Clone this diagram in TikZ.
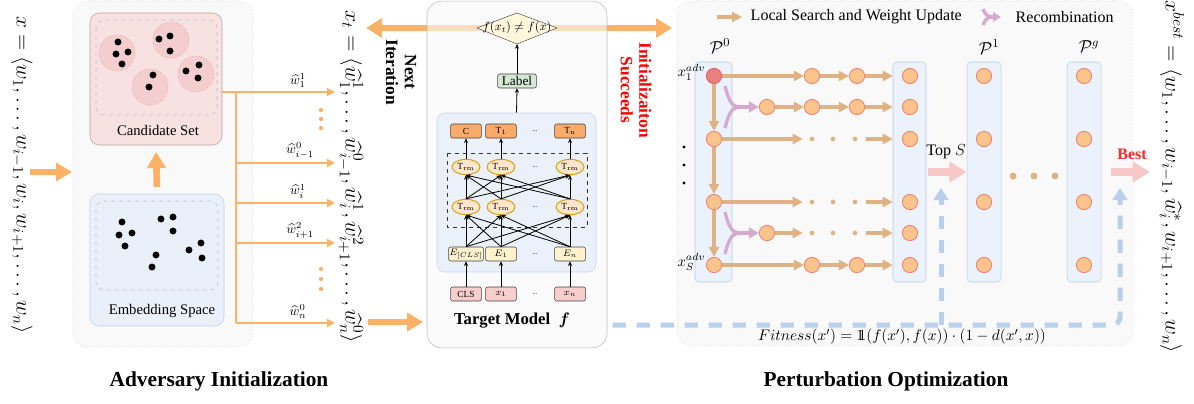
\RequirePackage{fix-cm}
\documentclass[tikz,border=0pt]{standalone}
\usepackage{amsmath,amssymb,bm}
\usepackage[no-math]{fontspec}
\setmainfont{Liberation Serif}
\usetikzlibrary{arrows.meta,shapes.geometric}

\newcommand{\indicator}{\mathrm{1\mkern-6.5mu1}}

\definecolor{initorange}{RGB}{252,178,102}
\definecolor{searchtan}{RGB}{222,178,130}
\definecolor{recombpink}{RGB}{214,170,204}
\definecolor{bestpink}{RGB}{248,200,200}
\definecolor{feedblue}{RGB}{185,207,235}
\definecolor{colfill}{RGB}{235,242,252}
\definecolor{coldraw}{RGB}{182,202,230}
\definecolor{popfill}{RGB}{251,196,140}
\definecolor{popdraw}{RGB}{238,130,110}
\definecolor{advfill}{RGB}{232,128,128}
\definecolor{advdraw}{RGB}{224,100,100}
\definecolor{candfill}{RGB}{248,225,225}
\definecolor{canddraw}{RGB}{190,160,160}
\definecolor{clusfill}{RGB}{244,206,206}
\definecolor{clusdraw}{RGB}{232,150,150}
\definecolor{embfill}{RGB}{233,240,250}
\definecolor{embdraw}{RGB}{190,210,235}
\definecolor{modelfill}{RGB}{234,241,251}
\definecolor{modeldraw}{RGB}{196,212,234}
\definecolor{outfill}{RGB}{250,170,105}
\definecolor{trmfill}{RGB}{255,230,204}
\definecolor{trmdraw}{RGB}{215,155,0}
\definecolor{embbox}{RGB}{255,242,204}
\definecolor{inpbox}{RGB}{248,206,204}
\definecolor{labelfill}{RGB}{213,232,212}
\definecolor{condfill}{RGB}{255,246,220}
\definecolor{panelfill}{RGB}{249,249,249}

\tikzset{
  fat/.style={draw=initorange, line width=5pt, -{Triangle[length=12pt,width=13.5pt]}},
  branch/.style={draw=initorange, line width=1.5pt, -{Triangle[length=6pt,width=6pt]}},
  outnode/.style={draw=black!75, fill=outfill, rounded corners=1.5pt, minimum width=23pt, minimum height=10.5pt, inner sep=0.5pt, font=\scriptsize},
  embnode/.style={outnode, fill=embbox},
  inpnode/.style={outnode, fill=inpbox},
  trmnode/.style={ellipse, draw=trmdraw, fill=trmfill, line width=0.7pt, minimum width=21pt, minimum height=11.5pt, inner sep=0pt, font=\scriptsize},
  thinarrow/.style={line width=0.6pt, -{Stealth[length=3.5pt,width=3pt]}},
  colbox/.style={draw=coldraw, fill=colfill, rounded corners=3pt, minimum height=165pt},
  pop/.style={circle, draw=popdraw, fill=popfill, line width=0.6pt, minimum size=11.5pt, inner sep=0pt},
  advnode/.style={pop, draw=advdraw, fill=advfill},
  gapdot/.style={circle, fill=searchtan, minimum size=3.5pt, inner sep=0pt},
  search/.style={draw=searchtan, line width=2.5pt, -{Triangle[length=7.5pt,width=7.5pt]}},
  recomb/.style={draw=recombpink, line width=2.5pt},
  bestarrow/.style={draw=bestpink, line width=6pt, -{Triangle[length=13pt,width=15pt]}},
  feedback/.style={draw=feedblue, line width=3.75pt, dash pattern=on 10pt off 8pt, rounded corners=6pt, -{Triangle[length=9pt,width=11pt]}},
  sentence/.style={rotate=-90, font=\fontsize{16.3}{18}\selectfont},
  sublabel/.style={anchor=south, inner sep=1pt}
}

\begin{document}
\begin{tikzpicture}[x=0.75pt,y=0.75pt,yscale=-1,xscale=1]
\useasboundingbox (0,0) rectangle (1194,403);

% panels
\draw[gray!50, dotted, fill=panelfill, rounded corners=11pt] (73,1) rectangle (253,347);
\draw[gray!50, dotted, fill=panelfill, rounded corners=11pt] (677,1) rectangle (1133,346);

% Next Iteration / Initialization Succeeds
\coordinate (xtend) at (366,28);
\coordinate (popstart) at (672,28);
\draw[initorange, line width=5pt, {Triangle[length=12pt,width=14pt]}-{Triangle[length=12pt,width=14pt]}] (xtend) -- (popstart);

% Target model panel
\node[draw=gray!55, fill=panelfill, fill opacity=0.6, rounded corners=11pt, minimum width=135pt, minimum height=260pt] (target) at (517,174.5) {};

% input sentence
\node[sentence, font=\fontsize{16}{18}\selectfont] (xin) at (22,175) {$x = \langle w_1, \ldots, w_{i-1}, w_i, w_{i+1}, \ldots, w_n \rangle$};
\coordinate (xinA) at (30,172);
\coordinate (xinB) at (72,172);
\draw[fat] (xinA) -- (xinB);

% Candidate Set
\node[draw=canddraw, fill=candfill, rounded corners=7pt, minimum width=99pt, minimum height=99pt] (cand) at (156,79) {};
\draw[gray!50, dashed, rounded corners=6pt] (96,20) rectangle (217,115);
\foreach \i/\xx/\yy in {1/117/53, 2/171/40, 3/150/87, 4/196/74}{
  \node[circle, draw=clusdraw, densely dotted, fill=clusfill, minimum size=27pt] (clus\i) at (\xx,\yy) {};
}
\foreach \p in {(118,42),(116,54),(128,52),(122,64),(159,39),(170,36),(170,51),(153,75),(149,87),(186,71),(199,65),(198,78)}
  \fill \p circle (2.6pt);
\node[font=\fontsize{11}{13}\selectfont] (candlbl) at (158,130) {Candidate Set};

% Embedding Space
\node[draw=embdraw, fill=embfill, rounded corners=7pt, minimum width=100.5pt, minimum height=99pt] (emb) at (157,260) {};
\draw[gray!50, dashed, rounded corners=6pt] (96,201) rectangle (218,290);
\foreach \p in {(122,222),(119,235),(132,233),(125,246),(161,219),(173,217),(173,231),(156,255),(152,267),(189,250),(201,243),(202,258)}
  \fill \p circle (2.6pt);
\node[font=\fontsize{11}{13}\selectfont] (emblbl) at (162,311) {Embedding Space};
\draw[fat, shorten <=5pt, shorten >=5pt] (emb.north) -- (cand.south);

% substitutions
\coordinate (fork) at (236,92);
\draw[initorange, line width=1.5pt] (cand.east |- fork) -- (fork) -- (236,323);
\foreach \yy in {92,163,203,243,323}
  \draw[branch] (236,\yy) -- (335,\yy);
\node[sublabel] (sub1) at (298,89) {$\widehat{w}_1^1$};
\node[sublabel] (sub2) at (300,160) {$\widehat{w}_{i-1}^0$};
\node[sublabel] (sub3) at (298,200) {$\widehat{w}_i^1$};
\node[sublabel] (sub4) at (300,240) {$\widehat{w}_{i+1}^2$};
\node[sublabel] (sub5) at (298,320) {$\widehat{w}_n^0$};
\foreach \yy in {110,119,128,269,279,289}
  \fill[initorange] (321,\yy) circle (1.6pt);

% adversarial sentence
\node[sentence] (xt) at (351,177) {$x_t = \langle \widehat{w}_1^1, \ldots, \widehat{w}_{i-1}^0, \widehat{w}_i^1, \widehat{w}_{i+1}^2, \ldots, \widehat{w}_n^0 \rangle$};
\node[rotate=-90, align=center, font=\bfseries\fontsize{13}{14}\selectfont] (nextit) at (401,72) {Next\\Iteration};
\node[rotate=-90, align=center, text=red, font=\bfseries\fontsize{13}{14}\selectfont] (initok) at (636,90) {Initializaiton\\Succeeds};
\coordinate (xtA) at (368,322);
\coordinate (xtB) at (423,322);
\draw[fat] (xtA) -- (xtB);

% Target model
\node[draw=modeldraw, fill=modelfill, rounded corners=6pt, minimum width=119.25pt, minimum height=119.25pt] (model) at (516.5,192.5) {};
\draw[black!80, dashed, line width=0.5pt] (447,153) rectangle (587,227);
\draw[draw=gray!70!black, fill=condfill] (477,28) -- (517,13) -- (557,28) -- (517,44) -- cycle;
\node[font=\small] (cond) at (517,28) {$f(x_t) \neq f(x)$};
\coordinate (condS) at (517,44);
\node[draw=black!75, fill=labelfill, rounded corners=1.5pt, minimum width=29pt, minimum height=10.5pt, inner sep=1pt] (label) at (517,81) {Label};
\draw[thinarrow] (model.north) -- (label.south);
\draw[thinarrow] (label.north) -- (condS);
\foreach \i/\xx/\tin/\temb/\tout in {1/466/CLS/{$E_{[CLS]}$}/C, 2/501/{$x_1$}/{$E_1$}/{T$_1$}, 3/570/{$x_n$}/{$E_n$}/{T$_\mathrm{n}$}}{
  \node[inpnode] (in\i) at (\xx,294) {\tin};
  \node[embnode] (e\i) at (\xx,254) {\temb};
  \node[trmnode] (ta\i) at (\xx,207) {T$_\mathrm{rm}$};
  \node[trmnode] (tb\i) at (\xx,167) {T$_\mathrm{rm}$};
  \node[outnode] (o\i) at (\xx,131) {\tout};
}
\foreach \yy in {131,167,207,254,294}
  \node[font=\tiny] (gap\yy) at (535,\yy) {...};
\foreach \a in {1,2,3}{
  \draw[thinarrow] (in\a) -- (e\a);
  \foreach \b in {1,2,3}{
    \draw[thinarrow] (e\a.north) -- (ta\b.south);
    \draw[thinarrow] (ta\a.north) -- (tb\b.south);
  }
  \draw[thinarrow] (tb\a) -- (o\a);
}
\node[font=\bfseries\fontsize{12.5}{14}\selectfont] (tmlbl) at (512,321) {Target Model~~$\boldsymbol{f}$};

% legend
\coordinate (lgA) at (717,17);
\coordinate (lgB) at (742,17);
\draw[search] (lgA) -- (lgB);
\node[anchor=west, font=\fontsize{12}{14}\selectfont] (lgsearch) at (746,17) {Local Search and Weight Update};
\draw[recomb] (983,9) .. controls (985,14) and (987,16) .. (990,17) .. controls (987,18) and (985,20) .. (983,25);
\coordinate (lgC) at (990,17);
\coordinate (lgD) at (1001,17);
\draw[recomb, -{Triangle[length=6pt,width=7pt]}] (lgC) -- (lgD);
\node[anchor=west, font=\fontsize{12}{14}\selectfont] (lgrecomb) at (1011,17) {Recombination};

% populations
\node[colbox, minimum width=27.75pt] (col0) at (713.5,172) {};
\node[colbox, minimum width=24.75pt] (colB) at (909.5,172) {};
\node[colbox, minimum width=25.5pt] (col1) at (984,172) {};
\node[colbox, minimum width=25.5pt] (colg) at (1084,172) {};
\node[font=\fontsize{13}{15}\selectfont] (P0) at (720,46) {$\mathcal{P}^0$};
\node[font=\fontsize{13}{15}\selectfont] (P1) at (989,47) {$\mathcal{P}^1$};
\node[font=\fontsize{13}{15}\selectfont] (Pg) at (1089,47) {$\mathcal{P}^g$};

\node[advnode] (a1) at (714,76) {};
\node[pop] (a2) at (714,139) {};
\node[pop] (a3) at (714,202) {};
\node[pop] (a4) at (714,265) {};
\foreach \k/\yy in {1/76,2/107,3/139,4/202,5/233,6/265}
  \node[pop] (b\k) at (910,\yy) {};
\foreach \k/\yy in {1/76,2/139,3/202,4/265}{
  \node[pop] (p\k) at (984,\yy) {};
  \node[pop] (g\k) at (1084,\yy) {};
}
\node[anchor=east, font=\fontsize{11}{13}\selectfont] (x1lbl) at (710,72) {$x_1^{adv}$};
\node[anchor=east, font=\fontsize{11}{13}\selectfont] (xslbl) at (710,262) {$x_S^{adv}$};
\foreach \yy in {147,165,183}
  \fill (684,\yy) circle (1.3pt);

% local search rows
\node[pop] (r1a) at (812,76) {};
\node[pop] (r1b) at (857,76) {};
\node[pop] (r2a) at (767,107) {};
\node[pop] (r2b) at (812,107) {};
\node[pop] (r2c) at (857,107) {};
\node[pop] (r5a) at (767,233) {};
\node[pop] (r6a) at (812,265) {};
\node[pop] (r6b) at (857,265) {};
\foreach \r/\yy in {3/139,4/202,5/233}{
  \node[gapdot] (d\r a) at (812,\yy) {};
  \node[gapdot] (d\r b) at (833,\yy) {};
  \node[gapdot] (d\r c) at (855,\yy) {};
  \draw[search, shorten <=6pt] (d\r c) -- (colB.west |- d\r c);
}
\draw[search] (a1) -- (r1a);
\draw[search] (r1a) -- (r1b);
\draw[search] (r1b) -- (colB.west |- b1);
\draw[search] (r2a) -- (r2b);
\draw[search] (r2b) -- (r2c);
\draw[search] (r2c) -- (colB.west |- b2);
\draw[search, shorten >=5pt] (a2) -- (d3a);
\draw[search, shorten >=5pt] (a3) -- (d4a);
\draw[search, shorten >=5pt] (r5a) -- (d5a);
\draw[search] (a4) -- (r6a);
\draw[search] (r6a) -- (r6b);
\draw[search] (r6b) -- (colB.west |- b6);
\draw[search] (a1) -- (a2);
\draw[search] (a2) -- (a3);
\draw[search] (a3) -- (a4);

% recombination
\coordinate (rc1) at (738,107);
\coordinate (rc2) at (738,233);
\draw[recomb] (725,86) .. controls (728,98) and (731,106) .. (rc1) .. controls (731,108) and (728,116) .. (725,128);
\draw[recomb, -{Triangle[length=7.5pt,width=8pt]}] (rc1) -- (r2a);
\draw[recomb] (725,212) .. controls (728,224) and (731,232) .. (rc2) .. controls (731,234) and (728,242) .. (725,254);
\draw[recomb, -{Triangle[length=7.5pt,width=8pt]}] (rc2) -- (r5a);

% selection
\draw[bestarrow] ([xshift=1.5pt]colB.east) -- (col1.west);
\node[font=\fontsize{12}{14}\selectfont] (topS) at (946,152) {Top $S$};
\foreach \xx in {1013,1034,1055}
  \fill[searchtan] (\xx,176) circle (2.6pt);
\coordinate (bestend) at (1150,172);
\draw[bestarrow] ([xshift=7pt]colg.east) -- (bestend);
\node[text=red!85!white, font=\bfseries\fontsize{12}{14}\selectfont] (bestlbl) at (1132,154) {Best};

% fitness feedback
\coordinate (fbA) at (target.east |- 0,325);
\draw[feedback, shorten <=4pt] (fbA) -- (1120,325) -- (1120,188);
\draw[feedback] (941,325) -- (941,188);
\node[font=\fontsize{11.5}{13}\selectfont] (fitness) at (902,337) {$Fitness(x') = \indicator(f(x'), f(x)) \cdot (1 - d(x', x))$};

% output sentence
\node[sentence] (xbest) at (1172,177) {$x^{best} = \langle w_1, \ldots, w_{i-1}, \widehat{w}_i^*, w_{i+1}, \ldots, w_n \rangle$};

% titles
\node[font=\bfseries\fontsize{16}{18}\selectfont] (advtitle) at (219,381) {Adversary Initialization};
\node[font=\bfseries\fontsize{16}{18}\selectfont] (pertitle) at (886,381) {Perturbation Optimization};

\end{tikzpicture}
\end{document}
